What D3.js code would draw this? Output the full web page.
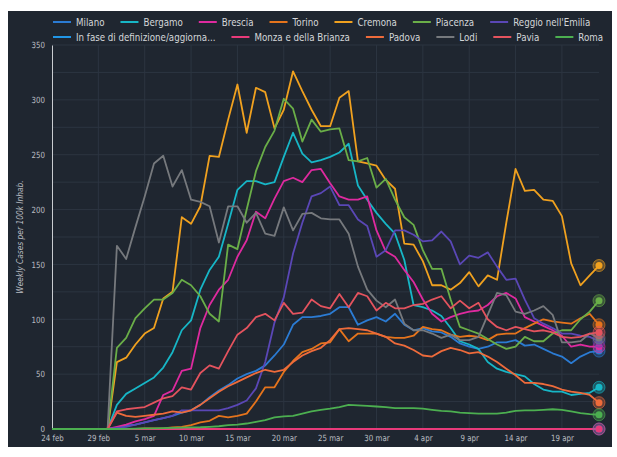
<!DOCTYPE html>
<html>
<head>
<meta charset="utf-8">
<title>Weekly cases</title>
<script src="https://d3js.org/d3.v7.min.js"></script>
<style>
  body { margin: 0; background: #fff; }
  svg text { font-family: "DejaVu Sans", sans-serif; }
</style>
</head>
<body>
<div id="chart"></div>
<script>
// provinces, in legend / drawing order
var names = ["Milano", "Bergamo", "Brescia", "Torino", "Cremona", "Piacenza", "Reggio nell'Emilia",
  "In fase di definizione/aggiorna...", "Monza e della Brianza", "Padova", "Lodi", "Pavia", "Roma"];
var colors = ["#2b7bd3", "#17b6c6", "#de2a9f", "#e5741c", "#f0a11f", "#6aae48", "#5a47b6",
  "#2196e6", "#e83a7a", "#ee6b3b", "#76797d", "#e4535e", "#4caf50"];

// weekly cases per 100k, one value per day from 24 feb to 23 apr
var milano = [0,0,0,0,0,0,0,1,3,4,6,8,10,12,15,17,22,29,35,40,46,50,53,58,67,77,95,102,102,103,105,111,111,95,99,102,98,105,95,90,92,89,88,84,78,75,73,75,79,79,81,76,77,73,69,66,60,66,70,71];
var bergamo = [0,0,0,0,0,0,0,22,32,37,42,47,56,70,90,99,127,145,157,187,218,226,226,223,225,248,270,251,243,245,248,252,260,222,209,197,187,178,154,113,111,108,103,92,80,77,73,61,55,52,50,48,41,36,34,34,31,32,33,38];
var brescia = [0,0,0,0,0,0,0,2,4,7,9,12,31,35,53,55,92,113,127,136,157,172,198,192,210,226,229,225,236,237,224,212,209,209,212,181,162,157,145,134,118,105,98,102,105,107,108,113,121,124,119,102,98,94,90,85,75,77,75,75];
var torino = [0,0,0,0,0,0,0,0,0,0,0.5,0.5,0.6,1.5,2,3.5,6,7.5,12,10.6,12,14,25,38,38,52,62,70,73,78,79,91,80,87,87,87,84,83,83,85,93,91,90,86,84,85,84,81,86,87,87,92,96,100,98,97,96,101,105,95];
var cremona = [0,0,0,0,0,0,0,61,65,77,87,92,119,125,193,187,203,249,248,282,314,270,311,307,274,291,326,308,291,276,276,302,308,244,242,240,227,219,169,168,153,131,131,127,133,143,130,140,136,188,237,217,218,209,208,194,151,131,140,149];
var piacenza = [0,0,0,0,0,0,0,74,83,101,110,118,118,124,136,131,121,105,98,168,164,200,235,257,272,301,292,262,282,271,273,274,245,244,247,220,228,209,193,186,163,146,146,118,93,90,87,82,77,73,75,84,80,80,87,90,90,100,107,117];
var reggio = [0,0,0,0,0,0,0,1,2,4,6,8,10,12,17,17,17,17,17,19,22,26,37,61,97,120,160,188,212,215,221,204,204,191,185,157,163,181,181,177,171,172,180,171,150,158,156,161,148,136,137,118,101,96,92,87,87,85,84,80];
var inFase = [0,0,0,0,0,0,0,0,0,0,0,0,0,0,0,0,0,0,0,0,0,0,0,0,0,0,0,0,0,0,0,0,0,0,0,0,0,0,0,0,0,0,0,0,0,0,0,0,0,0,0,0,0,0,0,0,0,0,0,0];
var monza = [0,0,0,0,0,0,0,0,0,0,0,0,0,0,0,0,0,0,0,0,0,0,0,0,0,0,0,0,0,0,0,0,0,0,0,0,0,0,0,0,0,0,0,0,0,0,0,0,0,0,0,0,0,0,0,0,0,0,0,0];
var padova = [0,0,0,0,0,0,0,15,12,11,12,13,14,16,15,17,22,28,34,39,43,47,51,54,52,54,61,67,71,74,81,91,92,91,90,87,84,78,76,72,67,66,71,74,72,69,70,66,61,55,49,42,42,41,39,36,34,33,31,24];
var lodi = [0,0,0,0,0,0,0,167,155,184,212,242,249,221,236,209,207,203,170,203,203,188,197,178,176,202,181,196,197,192,191,191,178,148,127,117,111,118,96,90,90,87,83,86,81,81,84,104,124,122,107,105,108,112,104,79,79,80,87,83];
var pavia = [0,0,0,0,0,0,0,16,18,19,20,24,28,30,38,36,51,58,55,71,86,92,102,105,99,115,105,106,118,112,110,123,111,124,121,108,115,110,110,113,114,118,121,110,117,110,115,100,93,90,93,91,89,90,88,84,83,84,87,88];
var roma = [0,0,0,0,0,0,0,0,0.2,0.3,0.5,0.6,0.8,1,1.2,1.4,1.6,2,2.5,3.5,4,5,6.5,8,10.5,11.5,12,14,16,17.5,18.5,20,22,21.5,21,20.5,20,19,19,19,18.5,17.5,16.5,16,15,14.5,14,14,14,15,16.5,17,17,17.5,18,17.5,16,14.5,13.5,13];

var seriesValues = [milano, bergamo, brescia, torino, cremona, piacenza, reggio, inFase, monza, padova, lodi, pavia, roma];
var dates = d3.timeDay.range(new Date(2020, 1, 24), new Date(2020, 3, 24));
var yTicks = [0, 50, 100, 150, 200, 250, 300, 350];

var W = 617, H = 457;
var margin = { top: 45, right: 18, bottom: 28, left: 52 };
var squeeze = 0.83;       // narrow lettering of the original
var legendSqueeze = 0.79;

var svg = d3.select("#chart").append("svg")
  .attr("width", W)
  .attr("height", H);

// dark panel
svg.append("rect")
  .attr("x", 8).attr("y", 11)
  .attr("width", 604).attr("height", 436)
  .attr("fill", "#1f2630");

var x = d3.scaleTime()
  .domain([dates[0], dates[dates.length - 1]])
  .range([margin.left, W - margin.right]);

var y = d3.scaleLinear()
  .domain([0, 350])
  .range([H - margin.bottom, margin.top]);

var xTickDates = dates.filter(function (d, i) { return i % 5 === 0; });
var fmt = d3.timeFormat("%-d %b");

// grid
svg.append("g")
  .selectAll("line")
  .data(d3.range(0, 351, 25))
  .enter().append("line")
  .attr("x1", margin.left).attr("x2", W - margin.right)
  .attr("y1", function (d) { return y(d); })
  .attr("y2", function (d) { return y(d); })
  .attr("stroke", "#2c3541")
  .attr("stroke-width", 1);

svg.append("g")
  .selectAll("line")
  .data(xTickDates.slice(1))
  .enter().append("line")
  .attr("x1", function (d) { return x(d); })
  .attr("x2", function (d) { return x(d); })
  .attr("y1", y(0)).attr("y2", y(350))
  .attr("stroke", "#2c3541")
  .attr("stroke-width", 1);

// axes
var xAxis = svg.append("g")
  .attr("transform", "translate(0," + y(0) + ")")
  .call(d3.axisBottom(x).tickValues(xTickDates)
    .tickFormat(function (d) { return fmt(d).toLowerCase(); })
    .tickSize(0).tickPadding(6));
xAxis.select(".domain").attr("stroke", "#c9ccd0");
xAxis.selectAll("text")
  .attr("fill", "#b9bcc0")
  .style("font-size", "8.5px")
  .attr("transform", "scale(" + squeeze + ",1)");

var yAxis = svg.append("g")
  .attr("transform", "translate(" + margin.left + ",0)")
  .call(d3.axisLeft(y).tickValues(yTicks).tickSize(0).tickPadding(7));
yAxis.select(".domain").attr("stroke", "#c9ccd0");
yAxis.selectAll("text")
  .attr("fill", "#b9bcc0")
  .style("font-size", "8.5px")
  .attr("x", -7 / squeeze)
  .attr("transform", "scale(" + squeeze + ",1)");

// y title
svg.append("text")
  .attr("transform", "translate(23," + ((y(0) + y(350)) / 2) + ") rotate(-90) scale(" + squeeze + ",1)")
  .attr("text-anchor", "middle")
  .attr("fill", "#b9bcc0")
  .style("font-size", "9px")
  .style("font-style", "italic")
  .text("Weekly Cases per 100k Inhab.");

// lines
var line = d3.line()
  .x(function (d, i) { return x(dates[i]); })
  .y(function (d) { return y(d); });

svg.append("g")
  .selectAll("path")
  .data(seriesValues)
  .enter().append("path")
  .attr("d", line)
  .attr("fill", "none")
  .attr("stroke", function (d, i) { return colors[i]; })
  .attr("stroke-width", 1.8)
  .attr("stroke-linejoin", "round");

// end markers
var last = dates.length - 1;
var markers = svg.append("g")
  .selectAll("g")
  .data(seriesValues)
  .enter().append("g")
  .attr("transform", function (d) { return "translate(" + x(dates[last]) + "," + y(d[last]) + ")"; });
markers.append("circle")
  .attr("r", 6)
  .attr("fill", function (d, i) { return colors[i]; })
  .attr("fill-opacity", 0.35)
  .attr("stroke", function (d, i) { return colors[i]; })
  .attr("stroke-opacity", 0.6)
  .attr("stroke-width", 1);
markers.append("circle")
  .attr("r", 3.5)
  .attr("fill", function (d, i) { return colors[i]; });

// legend, two rows
var rows = [names.slice(0, 7), names.slice(7)];
var legend = svg.append("g");
rows.forEach(function (row, r) {
  var cx = 53;
  var cy = r === 0 ? 22 : 37;
  row.forEach(function (name) {
    var i = names.indexOf(name);
    legend.append("line")
      .attr("x1", cx).attr("x2", cx + 18)
      .attr("y1", cy).attr("y2", cy)
      .attr("stroke", colors[i])
      .attr("stroke-width", 2);
    var t = legend.append("text")
      .attr("transform", "translate(" + (cx + 23) + "," + (cy + 4) + ") scale(" + legendSqueeze + ",1)")
      .attr("fill", "#d4d6d9")
      .style("font-size", "11px")
      .text(name);
    cx += 23 + t.node().getComputedTextLength() * legendSqueeze + 16;
  });
});
</script>
</body>
</html>
